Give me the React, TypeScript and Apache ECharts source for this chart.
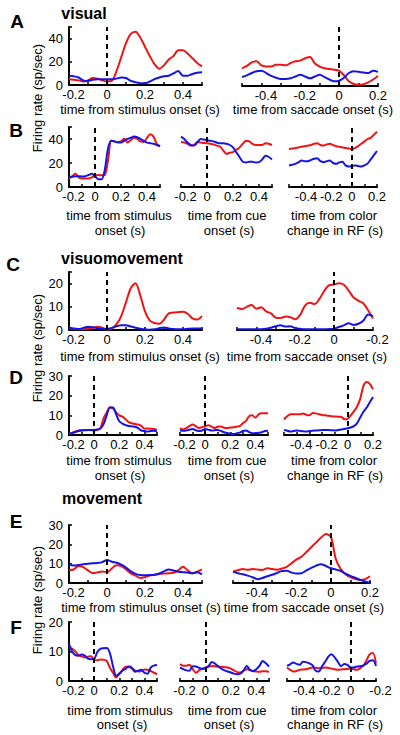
import React, { useEffect, useRef } from "react";
import * as echarts from "echarts";

// ---------- time axes (s) ----------
const tStim = [-0.2, -0.175, -0.15, -0.125, -0.1, -0.075, -0.05, -0.025, 0, 0.025, 0.05, 0.075, 0.1, 0.125, 0.15, 0.175, 0.2, 0.225, 0.25, 0.275, 0.3, 0.325, 0.35, 0.375, 0.4, 0.425, 0.45, 0.475, 0.5];
const tSac = [-0.5, -0.475, -0.45, -0.425, -0.4, -0.375, -0.35, -0.325, -0.3, -0.275, -0.25, -0.225, -0.2, -0.175, -0.15, -0.125, -0.1, -0.075, -0.05, -0.025, 0, 0.025, 0.05, 0.075, 0.1, 0.125, 0.15, 0.175, 0.2];

// ---------- firing rates (sp/sec) ----------
// A: visual
const aStimRed = [5, 4.5, 4, 3, 4, 6, 5.5, 4, 3, 3.5, 12, 24, 36, 44, 46, 41, 33, 25, 18, 14, 17, 22, 25, 30, 30, 27, 23, 19, 16];
const aStimBlue = [8, 7.5, 6.5, 4, 3.5, 4.5, 5, 5, 5, 5, 5.5, 6.5, 6, 3.5, 2.5, 1.5, 1.5, 3, 5, 6.5, 7.5, 8, 10, 12, 8, 8, 9.5, 10.5, 11];
const aSacRed = [15, 17, 20, 21, 17.5, 16.5, 16.5, 18, 18, 17.5, 19.5, 21, 21.5, 23.5, 24.5, 19, 16.5, 15, 14.5, 13.8, 13, 9, 4, 1.7, 1, 1.5, 3, 5.5, 8.5];
const aSacBlue = [7.5, 9, 11, 12.5, 13, 11, 8.5, 7, 6, 6, 6.5, 8, 9.5, 8, 6.5, 8, 9.5, 7.5, 5.5, 4, 4.5, 7, 11, 12.5, 12, 11.5, 11, 13, 12];
// B: visual
const bStimRed = [7, 9, 11, 8, 7, 7, 7, 8, 9.5, 10, 9.7, 10, 22, 38.5, 38, 37.5, 38, 40.5, 37, 39, 41, 40, 38, 37.5, 41, 44, 42, 36, 34];
const bStimBlue = [8.3, 8.5, 9, 9, 8.8, 9, 10, 11, 9, 6.5, 6.5, 14, 32, 38.5, 38, 37, 37, 38.5, 40, 41, 42, 41.5, 40, 38.5, 37, 36.5, 36, 35, 34];
const bCueRed = [37.5, 37, 36, 34.5, 35, 37.5, 37, 36.7, 36.5, 36, 35.5, 34.5, 33.7, 30.5, 27.6, 28.5, 29, 31, 33, 36, 38.5, 38, 36, 35, 35, 35, 36.5, 36, 35];
const bCueBlue = [42, 40, 37, 35, 34.5, 37, 40, 39.5, 39, 38.6, 38, 37, 36.4, 36.5, 36, 35, 33, 29, 25, 21, 20.5, 21, 21, 20.5, 20.7, 23, 26, 25, 23];
const bColorRed = [31.7, 32, 32.5, 33, 33.5, 34, 34.5, 35, 36, 36.4, 35, 34.5, 35.5, 36, 35, 34, 33.5, 33, 32.5, 32, 31.5, 32.5, 34, 36, 38, 40, 41, 43.5, 46];
const bColorBlue = [18, 18.5, 19.3, 20.5, 22, 21.5, 21.5, 22.5, 23.5, 24, 21.5, 20.7, 21.5, 22, 20, 19.3, 20.5, 21, 18, 17, 17.5, 18, 17.5, 17, 18, 19.5, 23, 26.5, 30];
// C: visuomovement
const cStimRed = [0.7, 0.4, 0.3, 0.3, 0.5, 1, 1.4, 1, 0.2, 0.6, 2.5, 6, 12, 18, 20.2, 15, 8, 4, 3, 2.7, 4.5, 7.2, 7.5, 7.7, 7.9, 7, 5, 4.5, 6];
const cStimBlue = [1.1, 0.6, 0.4, 0.9, 1.4, 1.2, 0.8, 0.5, 0.4, 0.9, 1.6, 2, 2.1, 1.5, 1, 0.5, 0.3, 0.1, 0.3, 0.8, 1.1, 0.7, 0.4, 0.3, 0.3, 0.5, 0.7, 0.7, 0.7];
const cSacRed = [9.6, 9, 10, 10.8, 9.2, 9.8, 8, 7.2, 5.3, 5.2, 5.8, 5.5, 4.6, 6.5, 10.5, 11.7, 11.2, 13.5, 17, 19.3, 19.6, 20.2, 19.5, 17, 14, 12.6, 11.5, 8.5, 5];
const cSacBlue = [0.3, 0.3, 0.3, 0.3, 0.3, 0.3, 0.5, 1, 1.6, 2, 1.5, 1.6, 0.8, 0.5, 0.3, 0.3, 0.3, 0.3, 0.3, 0.4, 0.6, 1.3, 2, 2.9, 2.2, 2.7, 4, 6.7, 6];
// D: visuomovement
const dStimRed = [0.5, 1, 1.8, 2.3, 2.5, 2.6, 2.6, 2.4, 2.3, 2.5, 3.5, 8.5, 11.5, 14, 13.5, 11.5, 10, 9.3, 8, 6.5, 6, 5.6, 5.3, 4.6, 3.2, 3.3, 3.2, 3, 2.6];
const dStimBlue = [0.5, 1, 1.5, 2, 2.2, 2.4, 2.5, 2.6, 2.6, 2.8, 3.3, 5.5, 10, 14, 14, 10.5, 7, 5.8, 5, 4.6, 4.4, 4.2, 3.5, 2.3, 2, 1.8, 2, 2.1, 1.8];
const dCueRed = [3.5, 2.8, 3.5, 4.5, 5.3, 4.5, 3.5, 4, 4.4, 4.9, 4.3, 3.5, 4.2, 4.3, 3.7, 3.5, 3.8, 3.9, 4.2, 4.5, 6, 7.2, 9.5, 10, 8.8, 10.5, 11, 11, 11];
const dCueBlue = [2.3, 2.2, 2.3, 2.7, 3, 2.5, 2, 2.3, 3, 2.7, 2.3, 2.4, 2.6, 2.1, 1.4, 1, 0.6, 0.5, 0.8, 1.2, 2, 2.3, 1.5, 0.9, 0.9, 1.1, 1.4, 2, 2.1];
const dColorRed = [7.9, 9.5, 10.5, 10.6, 10.5, 10.5, 10.9, 10.3, 10, 11.2, 11, 10.6, 10.2, 10, 9.8, 9.5, 9.4, 9.3, 9.3, 8, 8.2, 10, 12, 14.5, 18.5, 25, 27, 26, 23.3];
const dColorBlue = [2.6, 2.2, 1.8, 2, 2.3, 2.1, 1.9, 1.8, 2, 2.2, 2.3, 2.4, 2.5, 2.6, 2.5, 2.4, 2.3, 2.5, 2.8, 3, 3.4, 3.8, 4.5, 6, 9, 11.8, 14, 16.7, 19.3];
// E: movement
const eStimRed = [6.7, 7, 8.8, 8.2, 6.5, 5.2, 5.5, 6, 5.5, 7.5, 9.2, 8.8, 7, 5, 3.8, 2.6, 3, 3.9, 4.3, 4.7, 4.9, 5, 5.3, 6.5, 8.4, 6.5, 5, 5.9, 7];
const eStimBlue = [9.7, 9, 9.3, 9.7, 10, 10.2, 10.3, 10.8, 11.9, 11, 10.5, 9.5, 8, 6, 4.7, 4.1, 4, 4.1, 4.3, 4.9, 6, 7, 6.5, 5.8, 5.6, 5.4, 5, 5.6, 4.5];
const eSacRed = [5.9, 6.6, 7.3, 6.8, 7.2, 7, 6.7, 7.6, 7.2, 6.9, 7.5, 8.4, 10.3, 12.2, 13.6, 16, 18.5, 21, 23.5, 25.3, 24, 12.5, 7.2, 4.6, 3, 2.1, 1.6, 2, 3.5];
const eSacBlue = [5.9, 5, 4.5, 3.8, 3, 2, 2.6, 3.5, 4.3, 5.2, 6.2, 6.3, 5.4, 4.9, 5, 6.5, 7.8, 9, 9.7, 8.8, 7.6, 7, 6.2, 4.8, 3.6, 2.7, 1.6, 0.8, 0.2];
// F: movement
const fStimRed = [11.4, 11, 10, 8.8, 8.3, 8, 8.2, 8.4, 7.2, 7, 7.3, 7.2, 6.8, 4.5, 2.8, 1.2, 2.3, 3.8, 4.8, 4.8, 4.2, 3.6, 3.2, 3.4, 3.9, 3.8, 3.4, 2.8, 2.3];
const fStimBlue = [12.6, 10, 8.8, 8.6, 9, 8.6, 7.6, 7.4, 7.5, 9.8, 10.9, 11.1, 11.2, 9.5, 5, 1.8, 2.5, 3.5, 4.1, 4.9, 4.5, 3.1, 3.5, 3.8, 2.8, 2.5, 4.5, 5.2, 5.4];
const fCueRed = [5.7, 5.2, 5.2, 5.5, 4, 2.8, 3.6, 4.2, 4.6, 4.9, 5.1, 5, 4.8, 4.8, 4.7, 4.6, 4.2, 3.6, 3, 2.9, 3.5, 4, 3.7, 3.4, 3.2, 3.1, 3.3, 3.3, 3.1];
const fCueBlue = [4.6, 4, 3.6, 3.5, 5, 4.9, 4.5, 4.1, 4.3, 5.1, 6.4, 5.9, 5, 4.2, 3.6, 3.2, 2.9, 2.5, 2.3, 2.5, 3.5, 5.1, 3.8, 3.3, 4, 5.1, 6.8, 6, 4.9];
const fColorRed = [4.6, 3.8, 3.2, 3.4, 3.8, 3.9, 4, 4.3, 4.6, 4.5, 4.3, 4.4, 4.6, 4.4, 4.2, 4, 3.8, 3.9, 4, 4.1, 4.2, 4, 3.8, 4.3, 5.1, 7, 9, 9.5, 6];
const fColorBlue = [5.1, 5.6, 6.3, 5.8, 5.5, 6.5, 6.4, 6, 5.4, 3.5, 3.2, 5, 6.5, 8.3, 9.1, 8, 6.5, 5, 5.8, 5.5, 4.6, 4.6, 4.9, 5, 5.3, 5.9, 6.8, 7, 5.1];

// ---------- tick labels ----------
const stimTickVals = [-0.2, 0, 0.2, 0.4];
const stimTickLabels = ["-0.2", "0", "0.2", "0.4"];
const sacTickVals = [-0.4, -0.2, 0, 0.2];
const sacTickLabels = ["-0.4", "-0.2", "0", "0.2"];
const sacTickLabelsAsPrinted = ["-0.4", "-0.2", "0", "-0.2"];
const yTicks50 = [0, 20, 40];
const yTicks25 = [0, 10, 20];
const yTicks30 = [0, 10, 20, 30];
const yTicks20 = [0, 10, 20];

// ---------- texts ----------
const yTitle = "Firing rate (sp/sec)";
const stimTitle = "time from stimulus onset (s)";
const sacTitle = "time from saccade onset (s)";

const FONT = "'Liberation Sans', Arial, Helvetica, sans-serif";
const RED = "#f01414";
const BLUE = "#1414e6";

type Panel = {
  box: number[];
  t: number[];
  red: number[];
  blue: number[];
  xMin: number;
  xMax: number;
  xVals: number[];
  xLabels: string[];
  yMax: number;
  yInt: number;
  yVals: number[] | null;
  lm: number;
};

const S = (box: number[], red: number[], blue: number[], yMax: number, yInt: number, yVals: number[] | null, lm = 3): Panel => ({
  box, t: tStim, red, blue, xMin: -0.2, xMax: 0.5, xVals: stimTickVals, xLabels: stimTickLabels, yMax, yInt, yVals, lm,
});
const V = (box: number[], red: number[], blue: number[], yMax: number, yInt: number, labels = sacTickLabels, lm = 3): Panel => ({
  box, t: tSac, red, blue, xMin: -0.5, xMax: 0.2, xVals: sacTickVals, xLabels: labels, yMax, yInt, yVals: null, lm,
});

const panels: Panel[] = [
  S([69, 27, 133, 58], aStimRed, aStimBlue, 50, 20, yTicks50, 3),
  V([242, 27, 136, 59], aSacRed, aSacBlue, 50, 20, sacTickLabels, 3),
  S([69, 127, 91, 60], bStimRed, bStimBlue, 50, 20, yTicks50),
  S([181, 127, 91, 60], bCueRed, bCueBlue, 50, 20, null),
  V([289, 127, 88, 60], bColorRed, bColorBlue, 50, 20),
  S([69, 272, 133, 58], cStimRed, cStimBlue, 25, 10, yTicks25),
  V([237, 272, 136, 58], cSacRed, cSacBlue, 25, 10, sacTickLabelsAsPrinted),
  S([69, 376, 88, 59], dStimRed, dStimBlue, 30, 10, yTicks30),
  S([180, 376, 88, 59], dCueRed, dCueBlue, 30, 10, null),
  V([284, 376, 89, 59], dColorRed, dColorBlue, 30, 10),
  S([69, 525, 133, 58], eStimRed, eStimBlue, 30, 10, yTicks30),
  V([233, 525, 137, 58], eSacRed, eSacBlue, 30, 10),
  S([69, 622, 88, 59], fStimRed, fStimBlue, 20, 10, yTicks20),
  S([180, 622, 89, 59], fCueRed, fCueBlue, 20, 10, null),
  V([287, 622, 89, 59], fColorRed, fColorBlue, 20, 10, sacTickLabelsAsPrinted),
];

// x labels: negative ones nudged right (as in the original figure)
const pickX = (vals: number[], labels: string[]) => (v: number) => {
  const i = vals.findIndex((x) => Math.abs(x - v) < 1e-6);
  if (i < 0) return "";
  const s = labels[i];
  return s.charAt(0) === "-" ? `{n|${s}}` : `{p|${s}}`;
};
const pickY = (vals: number[]) => (v: number) => {
  const i = vals.findIndex((x) => Math.abs(x - v) < 1e-6);
  return i >= 0 ? String(vals[i]) : "";
};

const txt = (text: string, x: number, y: number, size = 13, bold = false, rotation = 0) => ({
  type: "text",
  x,
  y,
  rotation,
  silent: true,
  style: {
    text,
    fill: "#000",
    fontSize: size,
    fontWeight: bold ? "bold" : "normal",
    fontFamily: FONT,
    textAlign: "center",
    textVerticalAlign: "middle",
    align: "center",
    verticalAlign: "middle",
  },
});

function buildOption() {
  const grid = panels.map((p) => ({
    left: p.box[0],
    top: p.box[1],
    width: p.box[2],
    height: p.box[3],
    containLabel: false,
    outerBoundsMode: "none",
  }));
  const labelRich = {
    n: { fontSize: 13, fontFamily: FONT, color: "#000", padding: [0, 0, 0, 9] },
    p: { fontSize: 13, fontFamily: FONT, color: "#000" },
  };
  const xAxis = panels.map((p, i) => ({
    type: "value",
    gridIndex: i,
    min: p.xMin,
    max: p.xMax,
    interval: 0.1,
    axisLine: { show: true, onZero: false, lineStyle: { color: "#000", width: 2 } },
    axisTick: { show: true, inside: true, length: 3, lineStyle: { color: "#000", width: 1.5 } },
    axisLabel: {
      show: true,
      margin: p.lm,
      color: "#000",
      fontSize: 13,
      fontFamily: FONT,
      formatter: pickX(p.xVals, p.xLabels),
      rich: labelRich,
      hideOverlap: false,
    },
    splitLine: { show: false },
  }));
  const yAxis = panels.map((p, i) => ({
    type: "value",
    gridIndex: i,
    min: 0,
    max: p.yMax,
    interval: p.yInt,
    show: p.yVals !== null,
    axisLine: { show: true, onZero: false, lineStyle: { color: "#000", width: 2 } },
    axisTick: { show: true, inside: true, length: 3, lineStyle: { color: "#000", width: 1.5 } },
    axisLabel: {
      show: true,
      margin: 6,
      color: "#000",
      fontSize: 13,
      fontFamily: FONT,
      formatter: p.yVals ? pickY(p.yVals) : () => "",
    },
    splitLine: { show: false },
  }));
  const series: any[] = [];
  panels.forEach((p, i) => {
    series.push({
      type: "line",
      xAxisIndex: i,
      yAxisIndex: i,
      data: p.t.map((x, j) => [x, p.red[j]]),
      symbol: "none",
      showSymbol: false,
      smooth: 0.3,
      lineStyle: { color: RED, width: 2 },
      itemStyle: { color: RED },
      z: 2,
      markLine: {
        silent: true,
        symbol: ["none", "none"],
        label: { show: false },
        lineStyle: { color: "#000", type: [5, 4], width: 2 },
        data: [{ xAxis: 0 }],
      },
    });
    series.push({
      type: "line",
      xAxisIndex: i,
      yAxisIndex: i,
      data: p.t.map((x, j) => [x, p.blue[j]]),
      symbol: "none",
      showSymbol: false,
      smooth: 0.3,
      lineStyle: { color: BLUE, width: 2 },
      itemStyle: { color: BLUE },
      z: 3,
    });
  });

  const graphic = [
    txt("A", 17, 21, 19, true),
    txt("B", 16, 130, 19, true),
    txt("C", 13, 264, 19, true),
    txt("D", 16, 377, 19, true),
    txt("E", 16, 521, 19, true),
    txt("F", 16, 627, 19, true),
    txt("visual", 84, 13, 16, true),
    txt("visuomovement", 122, 258, 16, true),
    txt("movement", 102, 498, 16, true),
    txt(yTitle, 37, 98, 13, false, Math.PI / 2),
    txt(yTitle, 37, 348, 13, false, Math.PI / 2),
    txt(yTitle, 37, 600, 13, false, Math.PI / 2),
    txt(stimTitle, 140, 109),
    txt(sacTitle, 313, 109),
    txt("time from stimulus", 119, 215),
    txt("onset (s)", 120, 230),
    txt("time from cue", 227, 215),
    txt("onset (s)", 229, 230),
    txt("time from color", 334, 215),
    txt("change in RF (s)", 335, 230),
    txt(stimTitle, 140, 356),
    txt(sacTitle, 307, 356),
    txt("time from stimulus", 119, 460),
    txt("onset (s)", 120, 475),
    txt("time from cue", 227, 460),
    txt("onset (s)", 229, 475),
    txt("time from color", 334, 460),
    txt("change in RF (s)", 335, 475),
    txt(stimTitle, 141, 607),
    txt(sacTitle, 304, 607),
    txt("time from stimulus", 120, 710),
    txt("onset (s)", 122, 724),
    txt("time from cue", 227, 710),
    txt("onset (s)", 229, 724),
    txt("time from color", 334, 710),
    txt("change in RF (s)", 335, 724),
  ];

  return {
    animation: false,
    backgroundColor: "#fff",
    grid,
    xAxis,
    yAxis,
    series,
    graphic: { elements: graphic },
  };
}

export default function App() {
  const ref = useRef<HTMLDivElement>(null);
  useEffect(() => {
    const chart = echarts.init(ref.current as HTMLDivElement, null, { renderer: "svg" });
    chart.setOption(buildOption() as any);
    return () => chart.dispose();
  }, []);
  return (
    <div
      ref={ref}
      style={{ position: "absolute", left: 0, top: 0, width: 400, height: 735, background: "#fff" }}
    />
  );
}
